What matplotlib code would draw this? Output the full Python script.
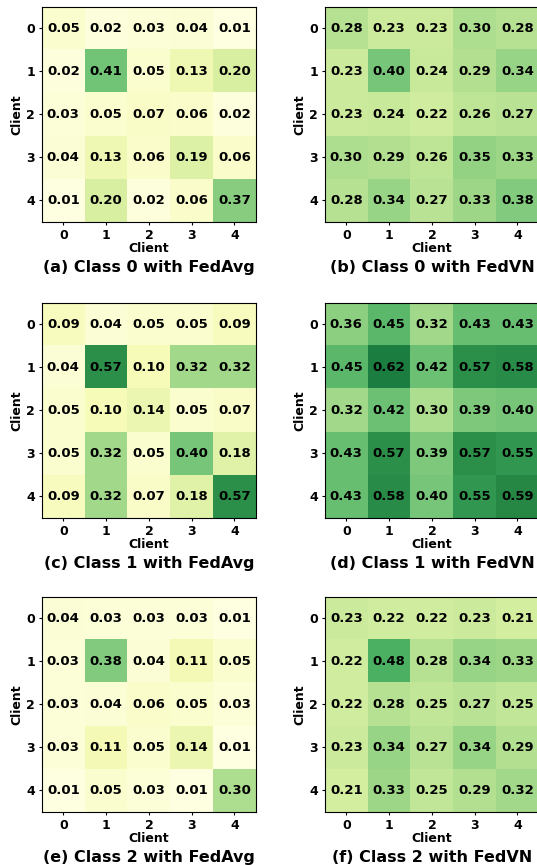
import numpy as np
import matplotlib
matplotlib.use("Agg")
import matplotlib.pyplot as plt

clients = ["0", "1", "2", "3", "4"]

class0_fedavg = [[0.05, 0.02, 0.03, 0.04, 0.01],
                 [0.02, 0.41, 0.05, 0.13, 0.20],
                 [0.03, 0.05, 0.07, 0.06, 0.02],
                 [0.04, 0.13, 0.06, 0.19, 0.06],
                 [0.01, 0.20, 0.02, 0.06, 0.37]]
class0_fedvn = [[0.28, 0.23, 0.23, 0.30, 0.28],
                [0.23, 0.40, 0.24, 0.29, 0.34],
                [0.23, 0.24, 0.22, 0.26, 0.27],
                [0.30, 0.29, 0.26, 0.35, 0.33],
                [0.28, 0.34, 0.27, 0.33, 0.38]]
class1_fedavg = [[0.09, 0.04, 0.05, 0.05, 0.09],
                 [0.04, 0.57, 0.10, 0.32, 0.32],
                 [0.05, 0.10, 0.14, 0.05, 0.07],
                 [0.05, 0.32, 0.05, 0.40, 0.18],
                 [0.09, 0.32, 0.07, 0.18, 0.57]]
class1_fedvn = [[0.36, 0.45, 0.32, 0.43, 0.43],
                [0.45, 0.62, 0.42, 0.57, 0.58],
                [0.32, 0.42, 0.30, 0.39, 0.40],
                [0.43, 0.57, 0.39, 0.57, 0.55],
                [0.43, 0.58, 0.40, 0.55, 0.59]]
class2_fedavg = [[0.04, 0.03, 0.03, 0.03, 0.01],
                 [0.03, 0.38, 0.04, 0.11, 0.05],
                 [0.03, 0.04, 0.06, 0.05, 0.03],
                 [0.03, 0.11, 0.05, 0.14, 0.01],
                 [0.01, 0.05, 0.03, 0.01, 0.30]]
class2_fedvn = [[0.23, 0.22, 0.22, 0.23, 0.21],
                [0.22, 0.48, 0.28, 0.34, 0.33],
                [0.22, 0.28, 0.25, 0.27, 0.25],
                [0.23, 0.34, 0.27, 0.34, 0.29],
                [0.21, 0.33, 0.25, 0.29, 0.32]]

panels = [(class0_fedavg, "(a) Class 0 with FedAvg"),
          (class0_fedvn, "(b) Class 0 with FedVN"),
          (class1_fedavg, "(c) Class 1 with FedAvg"),
          (class1_fedvn, "(d) Class 1 with FedVN"),
          (class2_fedavg, "(e) Class 2 with FedAvg"),
          (class2_fedvn, "(f) Class 2 with FedVN")]

fig = plt.figure(figsize=(5.37, 8.65), dpi=100)
lefts = [0.078, 0.605]
bottoms = [0.7434, 0.4012, 0.0613]

for i, (mat, caption) in enumerate(panels):
    ax = fig.add_axes([lefts[i % 2], bottoms[i // 2], 0.3985, 0.2486])
    m = np.array(mat)
    ax.imshow(m, cmap="YlGn", vmin=0, vmax=0.8, aspect="auto")
    for r in range(5):
        for c in range(5):
            ax.text(c, r, f"{m[r, c]:.2f}", ha="center", va="center",
                    fontsize=9.5, fontweight="bold", color="black")
    ax.set_xticks(range(5))
    ax.set_yticks(range(5))
    ax.set_xticklabels(clients, fontsize=9, fontweight="bold")
    ax.set_yticklabels(clients, fontsize=9, fontweight="bold")
    ax.tick_params(length=2, pad=3)
    ax.set_xlabel("Client", fontsize=9, fontweight="bold", labelpad=0)
    ax.set_ylabel("Client", fontsize=9, fontweight="bold", labelpad=2)
    ax.text(0.5, -0.21, caption, transform=ax.transAxes, ha="center",
            va="center", fontsize=11.5, fontweight="bold")

fig.savefig("out.png", dpi=100)
